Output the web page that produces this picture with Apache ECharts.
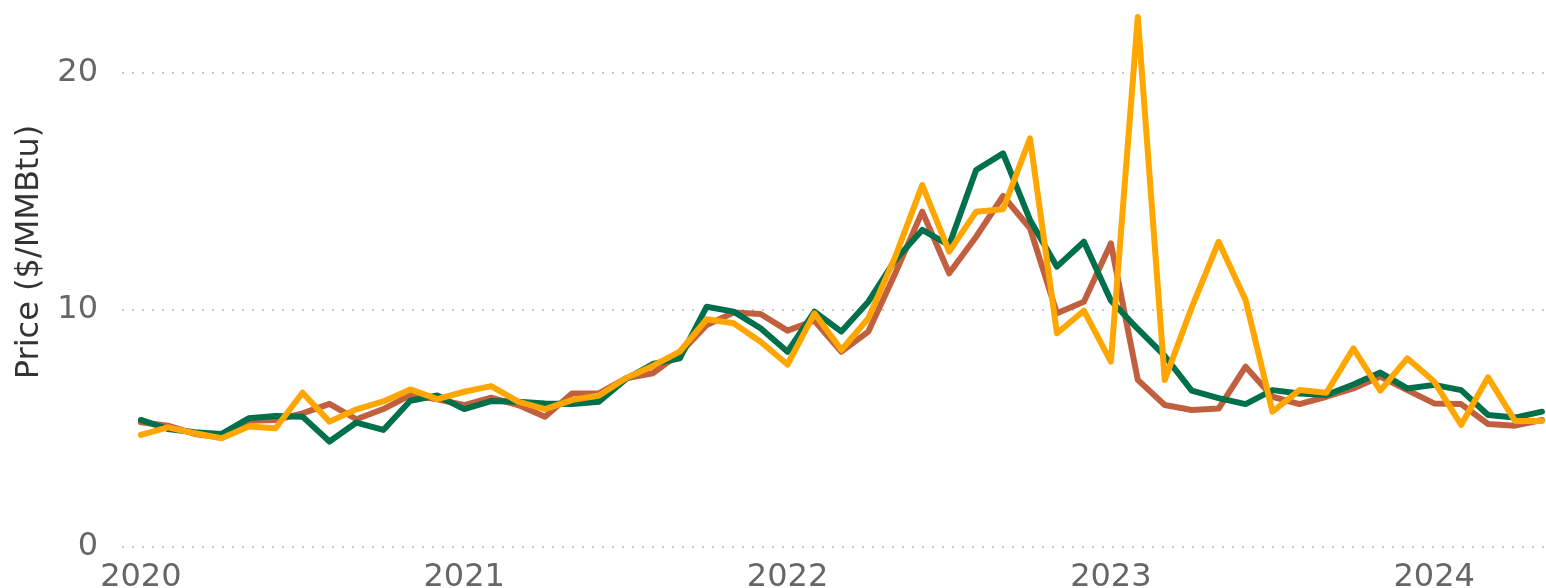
<!DOCTYPE html>
<html>
<head>
<meta charset="utf-8">
<script src="https://cdn.jsdelivr.net/npm/echarts@6/dist/echarts.min.js"></script>
<style>
html,body{margin:0;padding:0;background:#fff;}
#chart{width:1546px;height:588px;}
</style>
</head>
<body>
<div id="chart"></div>
<script>
const months = [
  '2020-01','2020-02','2020-03','2020-04','2020-05','2020-06','2020-07','2020-08','2020-09','2020-10','2020-11','2020-12',
  '2021-01','2021-02','2021-03','2021-04','2021-05','2021-06','2021-07','2021-08','2021-09','2021-10','2021-11','2021-12',
  '2022-01','2022-02','2022-03','2022-04','2022-05','2022-06','2022-07','2022-08','2022-09','2022-10','2022-11','2022-12',
  '2023-01','2023-02','2023-03','2023-04','2023-05','2023-06','2023-07','2023-08','2023-09','2023-10','2023-11','2023-12',
  '2024-01','2024-02','2024-03','2024-04','2024-05'
];
const yearLabels = ['2020','2021','2022','2023','2024'];
const yTicks = [0, 10, 20];

const greenSeries = [
  5.36,4.98,4.84,4.77,5.43,5.53,5.50,4.45,5.25,4.94,6.17,6.39,
  5.82,6.16,6.13,6.06,6.03,6.13,7.08,7.72,7.96,10.14,9.93,9.23,
  8.24,9.93,9.09,10.35,12.11,13.38,12.74,15.91,16.61,13.80,11.83,12.88,
  10.40,9.20,8.06,6.60,6.28,6.03,6.62,6.48,6.41,6.86,7.36,6.69,
  6.84,6.62,5.57,5.46,5.71
];
const brownSeries = [
  5.26,5.12,4.77,4.62,5.33,5.36,5.64,6.04,5.39,5.82,6.41,6.23,
  5.99,6.30,5.99,5.50,6.48,6.48,7.12,7.33,8.17,9.37,9.89,9.83,
  9.13,9.55,8.24,9.09,11.55,14.15,11.55,13.09,14.81,13.45,9.86,10.35,
  12.81,7.05,5.99,5.78,5.84,7.61,6.34,6.03,6.34,6.69,7.19,6.62,
  6.06,6.03,5.19,5.12,5.36
];
const orangeSeries = [
  4.73,5.05,4.80,4.59,5.08,5.01,6.51,5.29,5.81,6.14,6.65,6.24,
  6.55,6.79,6.13,5.82,6.20,6.39,7.12,7.64,8.24,9.61,9.44,8.66,
  7.70,9.86,8.31,9.65,12.25,15.27,12.46,14.15,14.25,17.24,9.02,9.97,
  7.82,22.36,7.05,10.10,12.88,10.42,5.71,6.62,6.51,8.38,6.60,7.96,
  6.98,5.15,7.16,5.32,5.32
];

function toPoints(vals){ return vals.map((v,i)=>[i, v]); }

const FONT = 'DejaVu Sans, Verdana, sans-serif';
const FS = 32;
const chart = echarts.init(document.getElementById('chart'), null, {renderer:'canvas'});
function lineSeries(name, vals, color){
  return {name:name, type:'line', data:toPoints(vals), showSymbol:false,
    lineStyle:{color:color, width:6, join:'round', cap:'round'}, itemStyle:{color:color}};
}
chart.setOption({
  backgroundColor:'#ffffff',
  animation:false,
  grid:{left:122, right:0, top:0, bottom:41, containLabel:false, outerBoundsMode:'none'},
  xAxis:{
    type:'value',
    min:-0.7,
    max:52.15,
    axisLine:{show:false},
    axisTick:{show:false},
    splitLine:{show:false},
    axisLabel:{
      customValues: yearLabels.map((y,k)=>k*12),
      formatter: v => yearLabels[Math.round(v/12)],
      color:'#666666',
      fontSize:FS,
      fontFamily:FONT,
      margin:15
    }
  },
  yAxis:{
    type:'value',
    min:0,
    max:23.08,
    interval:10,
    axisLine:{show:false},
    axisTick:{show:false},
    splitLine:{show:true, showMaxLine:false, lineStyle:{color:'#c8c8c8', type:[2,8], width:2}},
    axisLabel:{
      color:'#666666',
      fontSize:FS,
      fontFamily:FONT,
      margin:24,
      formatter: v => (yTicks.indexOf(v) >= 0 ? String(v) : '')
    }
  },
  graphic:[{
    type:'text',
    x:30, y:252,
    rotation:Math.PI/2,
    style:{text:'Price ($/MMBtu)', fill:'#333333', fontSize:FS, fontFamily:FONT, align:'center', verticalAlign:'middle'}
  }],
  series:[
    lineSeries('Brown', brownSeries, '#c0603f'),
    lineSeries('Green', greenSeries, '#006f4c'),
    lineSeries('Orange', orangeSeries, '#ffa600')
  ]
});
</script>
</body>
</html>
